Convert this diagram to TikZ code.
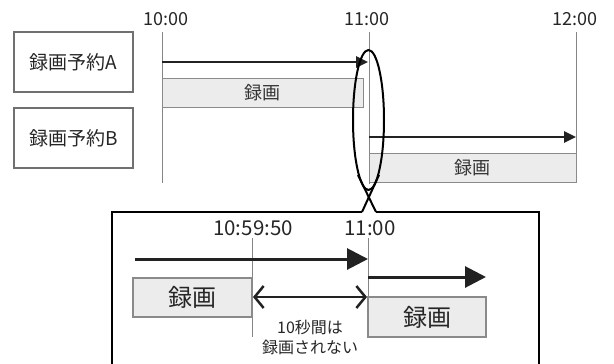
\documentclass[tikz,border=0pt]{standalone}
\usepackage{fontspec}
\setmainfont{Noto Sans CJK JP}
\usetikzlibrary{arrows.meta,shapes.geometric}
\definecolor{barfill}{HTML}{ECECEC}
\definecolor{barline}{HTML}{8A8A8A}
\definecolor{gridline}{HTML}{858585}
\definecolor{arrowcol}{HTML}{222222}
\definecolor{boxline}{HTML}{707070}
\tikzset{
  resbox/.style={draw=boxline,line width=1.2pt,minimum width=119pt,minimum height=60pt,inner sep=0pt,font=\fontsize{19}{22}\selectfont,text=black!85},
  timelbl/.style={inner sep=0pt,font=\fontsize{18}{21}\selectfont,text=black!85},
  biglbl/.style={inner sep=0pt,font=\fontsize{20.5}{23}\selectfont,text=black!85},
  gridln/.style={draw=gridline,line width=1pt},
  topbar/.style={draw=barline,fill=barfill,line width=1pt,inner sep=0pt,font=\fontsize{18}{21}\selectfont,text=black!80},
  botbar/.style={draw=barline,fill=barfill,line width=1.2pt,inner sep=0pt,font=\fontsize{24}{27}\selectfont,text=black!85},
  toparrow/.style={draw=arrowcol,line width=2.5pt,-{Triangle[length=12pt,width=11pt]}},
  bigarrow/.style={draw=arrowcol,line width=3pt,-{Triangle[length=21pt,width=21pt]}},
  gaparrow/.style={draw=arrowcol,line width=2.5pt,{Straight Barb[length=9pt,width=22pt]}-{Straight Barb[length=9pt,width=22pt]}},
  note/.style={inner sep=0pt,font=\fontsize{16}{18}\selectfont,text=black!85},
  callout/.style={draw=black,line width=2pt}
}
\begin{document}
\begin{tikzpicture}[x=1pt,y=-1pt]
\useasboundingbox (0,0) rectangle (614,364);
% reservation boxes
\node[resbox] (resA) at (73.5,62) {録画予約A};
\node[resbox] (resB) at (73.5,138) {録画予約B};
% time labels
\node[timelbl] (t10) at (166,19) {10:00};
\node[timelbl] (t11) at (367,19) {11:00};
\node[timelbl] (t12) at (575,19) {12:00};
% grid lines
\coordinate (g10a) at (162,32); \coordinate (g10b) at (162,183);
\coordinate (g11a) at (369,32); \coordinate (g11b) at (369,184);
\coordinate (g12a) at (576,32); \coordinate (g12b) at (576,183);
\draw[gridln] (g10a) -- (g10b);
\draw[gridln] (g11a) -- (g11b);
\draw[gridln] (g12a) -- (g12b);
% bars
\node[topbar,minimum width=201pt,minimum height=29pt] (barA) at (262.5,92.5) {録画};
\node[topbar,minimum width=207pt,minimum height=29pt] (barB) at (472.5,167.5) {録画};
% arrows
\coordinate (aAs) at (162,62); \coordinate (aAe) at (368,62);
\coordinate (aBs) at (369,137); \coordinate (aBe) at (576,137);
\draw[toparrow] (aAs) -- (aAe);
\draw[toparrow] (aBs) -- (aBe);
% ellipse and callout
\node[callout,ellipse,minimum width=31pt,minimum height=140pt,inner sep=0pt] (ell) at (368.5,120) {};
\coordinate (footL) at (362,212); \coordinate (footR) at (376,212);
\coordinate (eR) at (379,175); \coordinate (eL) at (358,175);
\draw[callout] (footL) -- (eR);
\draw[callout] (footR) -- (eL);
\coordinate (bxTL) at (112,212); \coordinate (bxBL) at (112,367);
\coordinate (bxTR) at (539,212); \coordinate (bxBR) at (539,367);
\draw[callout,line join=miter] (footL) -- (bxTL) -- (bxBL);
\draw[callout,line join=miter] (footR) -- (bxTR) -- (bxBR);
% detail
\node[biglbl] (d1) at (253,228) {10:59:50};
\node[biglbl] (d2) at (370,228) {11:00};
\coordinate (v1a) at (252,238); \coordinate (v1b) at (252,337);
\coordinate (v2a) at (368,238); \coordinate (v2b) at (368,337);
\draw[gridln] (v1a) -- (v1b);
\draw[gridln] (v2a) -- (v2b);
\node[botbar,minimum width=119pt,minimum height=39pt] (bar1) at (192.5,297.5) {録画};
\node[botbar,minimum width=118pt,minimum height=40pt] (bar2) at (427,317) {録画};
\coordinate (b1s) at (135,259); \coordinate (b1e) at (368,259);
\coordinate (b2s) at (368,277); \coordinate (b2e) at (486,277);
\draw[bigarrow] (b1s) -- (b1e);
\draw[bigarrow] (b2s) -- (b2e);
\coordinate (gs) at (253,297); \coordinate (ge) at (367,297);
\draw[gaparrow] (gs) -- (ge);
\node[note] (n1) at (310,327) {10秒間は};
\node[note] (n2) at (310,347) {録画されない};
\end{tikzpicture}
\end{document}
